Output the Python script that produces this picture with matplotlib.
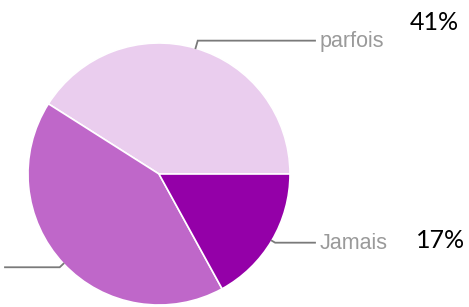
import numpy as np
import matplotlib.pyplot as plt

labels = ['parfois', '', 'Jamais']
values = [41, 42, 17]
colors = ['#eacdee', '#bf67c9', '#9400a8']
pct_labels = ['41%', '17%']

W, H = 469, 307
fig = plt.figure(figsize=(W / 100, H / 100), dpi=100)
ax = fig.add_axes([0, 0, 1, 1])

cx, cy, r = 159, H - 174, 131
wedges, _ = ax.pie(values, colors=colors, startangle=0, counterclock=True,
                   center=(cx, cy), radius=r,
                   wedgeprops=dict(edgecolor='white', linewidth=1.2))
ax.set_xlim(0, W)
ax.set_ylim(0, H)
ax.set_aspect('equal')
ax.axis('off')

# leader lines from slice middles
line_end = [315, 5, 315]
elbow = [1.06, 1.04, 1.03]
for i, w in enumerate(wedges):
    ang = np.deg2rad((w.theta1 + w.theta2) / 2)
    x0, y0 = cx + r * np.cos(ang), cy + r * np.sin(ang)
    x1, y1 = cx + r * elbow[i] * np.cos(ang), cy + r * elbow[i] * np.sin(ang)
    ax.plot([x0, x1, line_end[i]], [y0, y1, y1], color='#7a7a7a', lw=1.3,
            solid_joinstyle='miter')
    if labels[i]:
        ax.text(line_end[i] + 5, y1 - 1, labels[i], color='#9a9a9a',
                fontsize=15.5, family='Liberation Sans', va='center', ha='left')

ax.text(434, H - 23, pct_labels[0], fontsize=18, family='Lato',
        ha='center', va='center', color='black')
ax.text(441, H - 241, pct_labels[1], fontsize=18, family='Lato',
        ha='center', va='center', color='black')

fig.savefig('out.png', dpi=100)
